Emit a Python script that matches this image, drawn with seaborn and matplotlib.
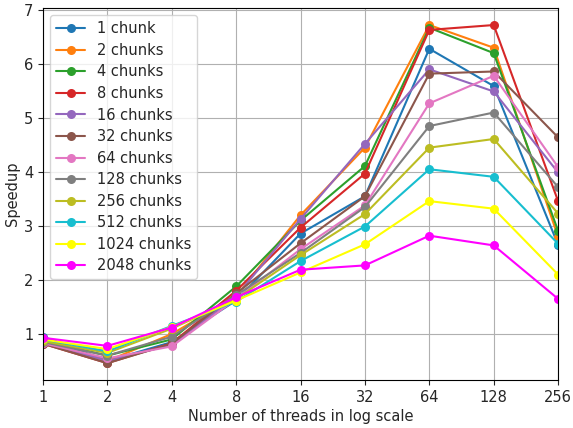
import matplotlib
matplotlib.use("Agg")
import matplotlib.pyplot as plt
import seaborn as sns
import pandas as pd

threads = [1, 2, 4, 8, 16, 32, 64, 128, 256]

chunk_labels = ["1 chunk", "2 chunks", "4 chunks", "8 chunks", "16 chunks",
                "32 chunks", "64 chunks", "128 chunks", "256 chunks",
                "512 chunks", "1024 chunks", "2048 chunks"]

speedup_1 = [0.95, 0.50, 0.85, 1.62, 2.86, 3.55, 6.28, 5.59, 2.65]
speedup_2 = [0.85, 0.50, 1.00, 1.70, 3.20, 4.45, 6.72, 6.30, 2.80]
speedup_4 = [0.88, 0.60, 0.90, 1.88, 3.10, 4.11, 6.67, 6.20, 2.91]
speedup_8 = [0.82, 0.46, 0.83, 1.80, 2.97, 3.97, 6.63, 6.72, 3.46]
speedup_16 = [0.85, 0.50, 0.80, 1.70, 3.13, 4.52, 5.90, 5.49, 3.99]
speedup_32 = [0.82, 0.46, 0.82, 1.75, 2.68, 3.55, 5.82, 5.86, 4.64]
speedup_64 = [0.83, 0.55, 0.77, 1.65, 2.57, 3.38, 5.27, 5.78, 4.09]
speedup_128 = [0.85, 0.60, 0.95, 1.72, 2.50, 3.35, 4.85, 5.10, 3.72]
speedup_256 = [0.87, 0.65, 1.10, 1.65, 2.46, 3.22, 4.45, 4.61, 3.23]
speedup_512 = [0.90, 0.68, 1.15, 1.60, 2.35, 2.99, 4.05, 3.91, 2.67]
speedup_1024 = [0.90, 0.72, 1.13, 1.62, 2.14, 2.66, 3.46, 3.32, 2.10]
speedup_2048 = [0.93, 0.78, 1.12, 1.68, 2.19, 2.27, 2.82, 2.64, 1.65]

series = [speedup_1, speedup_2, speedup_4, speedup_8, speedup_16, speedup_32,
          speedup_64, speedup_128, speedup_256, speedup_512, speedup_1024,
          speedup_2048]

colors = ["#1f77b4", "#ff7f0e", "#2ca02c", "#d62728", "#9467bd", "#8c564b",
          "#e377c2", "#7f7f7f", "#bcbd22", "#17becf", "#ffff00", "#ff00ff"]

rows = []
for label, vals in zip(chunk_labels, series):
    for t, v in zip(threads, vals):
        rows.append({"threads": t, "speedup": v, "chunks": label})
df = pd.DataFrame(rows)

sns.set_style("white")
plt.rcParams["font.family"] = ["DejaVu Sans"]
fs = 10.5

fig, ax = plt.subplots(figsize=(5.73, 4.28), dpi=100)
fig.subplots_adjust(left=0.075, right=0.974, top=0.981, bottom=0.112)

sns.lineplot(data=df, x="threads", y="speedup", hue="chunks",
             hue_order=chunk_labels, palette=colors, marker="o",
             markersize=6.5, markeredgewidth=0, linewidth=1.5, ax=ax)

ax.set_xscale("log", base=2)
ax.set_xlim(1, 256)
ax.set_xticks(threads)
ax.set_xticklabels([str(t) for t in threads])
ax.minorticks_off()
ax.margins(y=0.05)
ax.grid(True, color="#b0b0b0", linewidth=0.8)
ax.tick_params(axis="both", labelsize=fs, length=3.5, direction="out",
               left=True, bottom=True)
for s in ax.spines.values():
    s.set_color("black")
    s.set_linewidth(0.8)

ax.set_xlabel("Number of threads in log scale", fontsize=fs, labelpad=3)
ax.set_ylabel("Speedup", fontsize=fs, labelpad=3)
ax.legend(loc="upper left", fontsize=fs, framealpha=0.8, labelspacing=0.45,
          borderaxespad=0.5)

fig.savefig("out.png", dpi=100)
